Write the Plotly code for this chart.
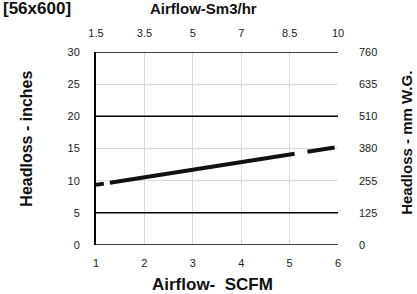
import plotly.graph_objects as go

# ---- data ----
airflow_scfm = [1.0, 5.93]
headloss_in = [9.35, 15.15]

x_ticks = [1, 2, 3, 4, 5, 6]
x_top_labels = ["1.5", "3.5", "5", "7", "8.5", "10"]
y_ticks = [0, 5, 10, 15, 20, 25, 30]
y_right_labels = ["0", "125", "255", "380", "510", "635", "760"]
dark_lines = [0, 5, 20, 30]

FONT = "Liberation Sans, Arial, sans-serif"
W, H = 417, 294
L, R, T, B = 95.5, 338, 52, 245

def px(xp):
    return (xp - L) / (R - L)

def py(yp):
    return (B - yp) / (B - T)

fig = go.Figure()
fig.add_trace(go.Scatter(
    x=airflow_scfm, y=headloss_in, mode="lines",
    line=dict(color="#111111", width=4, dash="8px,6px,187px,13px,60px"),
    showlegend=False, hoverinfo="skip"))
# invisible trace to activate secondary axes
fig.add_trace(go.Scatter(x=[x_ticks[0], x_ticks[-1]], y=[y_ticks[0], y_ticks[-1]],
                         xaxis="x2", yaxis="y2", mode="markers",
                         marker=dict(opacity=0), showlegend=False, hoverinfo="skip"))

tickfont = dict(family=FONT, size=11, color="#222222")

fig.update_layout(
    width=W, height=H,
    margin=dict(l=L, r=W - R, t=T, b=H - B, pad=0),
    paper_bgcolor="white", plot_bgcolor="white",
    xaxis=dict(range=[1, 6], tickvals=x_ticks, ticktext=[str(v) for v in x_ticks],
               showgrid=True, gridcolor="#d9d9d9", gridwidth=1,
               zeroline=False, showline=False, ticks="", tickfont=tickfont,
               ticklabelstandoff=10),
    xaxis2=dict(range=[1, 6], tickvals=x_ticks, ticktext=x_top_labels,
                overlaying="x", side="top", showgrid=False, zeroline=False,
                showline=False, ticks="", tickfont=tickfont, ticklabelstandoff=12),
    yaxis=dict(range=[0, 30], tickvals=y_ticks, ticktext=[str(v) for v in y_ticks],
               showgrid=True, gridcolor="#d9d9d9", gridwidth=1,
               zeroline=False, showline=True, linecolor="#000000", linewidth=2,
               ticks="", tickfont=tickfont, ticklabelstandoff=12),
    yaxis2=dict(range=[0, 30], tickvals=y_ticks, ticktext=y_right_labels,
                overlaying="y", side="right", showgrid=False, zeroline=False,
                showline=False, ticks="", tickfont=tickfont, ticklabelstandoff=20),
)

for v in dark_lines:
    fig.add_shape(type="line", xref="paper", yref="y", x0=0, x1=1, y0=v, y1=v,
                  line=dict(color="#000000", width=1.5), layer="above")

title_font = dict(family=FONT, size=16, color="#111111")
fig.add_annotation(text="<b>Airflow-  SCFM</b>", xref="paper", yref="paper",
                   x=px(212), y=py(284), showarrow=False, xanchor="center",
                   yanchor="middle", font=dict(family=FONT, size=17, color="#111111"))
fig.add_annotation(text="<b>Airflow-Sm3/hr</b>", xref="paper", yref="paper",
                   x=px(203), y=py(8), showarrow=False, xanchor="center",
                   yanchor="middle", font=dict(family=FONT, size=15, color="#111111"))
fig.add_annotation(text="<b>Headloss - inches</b>", xref="paper", yref="paper",
                   x=px(25), y=py(139), showarrow=False, textangle=-90,
                   xanchor="center", yanchor="middle", font=title_font)
fig.add_annotation(text="<b>Headloss - mm W.G.</b>", xref="paper", yref="paper",
                   x=px(406), y=py(143), showarrow=False, textangle=-90,
                   xanchor="center", yanchor="middle",
                   font=dict(family=FONT, size=15, color="#111111"))
fig.add_annotation(text="<b>[56x600]</b>", xref="paper", yref="paper",
                   x=px(72), y=py(8), showarrow=False, xanchor="right",
                   yanchor="middle", font=dict(family=FONT, size=17, color="#111111"))

fig.write_html("out.html", config={"displayModeBar": False},
               post_script="document.body.style.margin='0';")
